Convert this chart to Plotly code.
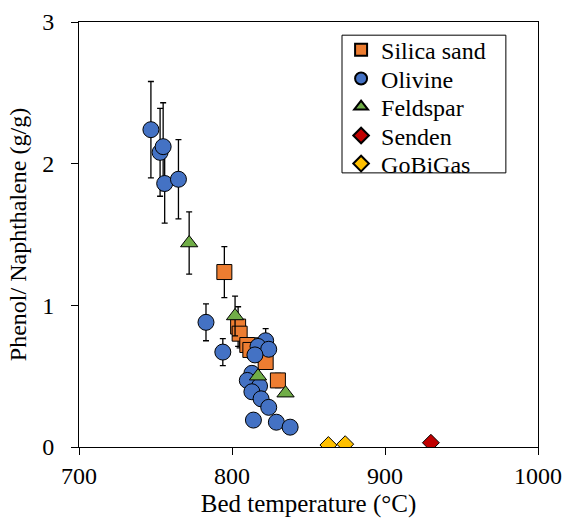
import plotly.graph_objects as go

# Silica sand
silica_T = [795, 804, 805, 810, 812, 822, 830]
silica_v = [1.235, 0.85, 0.80, 0.72, 0.685, 0.60, 0.47]
silica_e = [0.18, 0.14, 0.10, 0.05, 0.06, 0.05, 0.05]

# Olivine
olivine_T = [747, 753, 755, 756, 765, 783, 794, 822, 817, 824, 815, 813, 810, 818, 813, 819, 824, 814, 829, 838]
olivine_v = [2.24, 2.08, 2.12, 1.86, 1.89, 0.88, 0.67, 0.75, 0.71, 0.69, 0.65, 0.52, 0.47, 0.43, 0.39, 0.34, 0.28, 0.19, 0.175, 0.14]
olivine_e = [0.34, 0.31, 0.31, 0.28, 0.28, 0.13, 0.095, 0.085, 0.06, 0, 0, 0, 0, 0, 0, 0, 0, 0, 0, 0]

# Feldspar
feldspar_T = [772, 802, 817, 835]
feldspar_v = [1.44, 0.925, 0.50, 0.38]
feldspar_e = [0.22, 0.14, 0.0, 0.0]

# Senden
senden_T = [930]
senden_v = [0.03]

# GoBiGas
gobigas_T = [863, 874]
gobigas_v = [0.014, 0.02]

x_ticks = [700, 800, 900, 1000]
y_ticks = [0, 1, 2, 3]

FONT = "Liberation Serif, serif"
line = dict(color="black", width=1)
eb = lambda e: dict(type="data", array=e, visible=True, color="black", thickness=1.3, width=3)

fig = go.Figure()
fig.add_trace(go.Scatter(x=silica_T, y=silica_v, mode="markers", name="Silica sand",
                         error_y=eb(silica_e), legend="legend",
                         marker=dict(symbol="square", size=15, color="#ED7D31", line=line)))
fig.add_trace(go.Scatter(x=olivine_T, y=olivine_v, mode="markers", name="Olivine",
                         error_y=eb(olivine_e), legend="legend2",
                         marker=dict(symbol="circle", size=16, color="#4472C4", line=line)))
fig.add_trace(go.Scatter(x=feldspar_T, y=feldspar_v, mode="markers", name="Feldspar",
                         error_y=eb(feldspar_e), legend="legend3",
                         marker=dict(symbol="triangle-up", size=15, color="#70AD47", line=line)))
fig.add_trace(go.Scatter(x=senden_T, y=senden_v, mode="markers", name="Senden",
                         legend="legend4",
                         marker=dict(symbol="diamond", size=13, color="#C00000", line=line)))
fig.add_trace(go.Scatter(x=gobigas_T, y=gobigas_v, mode="markers", name="GoBiGas",
                         legend="legend5",
                         marker=dict(symbol="diamond", size=13, color="#FFC000", line=line)))

leg_x = 0.571
leg_ys = [0.934, 0.866, 0.800, 0.732, 0.666]
def leg(yv):
    return dict(x=leg_x, y=yv, xanchor="left", yanchor="middle",
                borderwidth=0, bgcolor="rgba(0,0,0,0)",
                font=dict(family=FONT, size=24, color="black"),
                itemsizing="constant", itemwidth=30)

fig.update_layout(
    width=566, height=521,
    margin=dict(l=79, r=28, t=22, b=74),
    paper_bgcolor="white", plot_bgcolor="white",
    font=dict(family=FONT, size=24, color="black"),
    showlegend=True,
    legend=leg(leg_ys[0]), legend2=leg(leg_ys[1]), legend3=leg(leg_ys[2]),
    legend4=leg(leg_ys[3]), legend5=leg(leg_ys[4]),
    shapes=[dict(type="rect", xref="paper", yref="paper",
                 x0=0.573, x1=0.930, y0=0.645, y1=0.969,
                 line=dict(color="black", width=1), fillcolor="rgba(0,0,0,0)", layer="above")],
)
fig.update_xaxes(range=[700, 1000], tickvals=x_ticks, ticks="outside", ticklen=7,
                 tickcolor="black", showline=True, linecolor="black", linewidth=1,
                 mirror=True, showgrid=False, zeroline=False, automargin=False,
                 title=dict(text="Bed temperature (°C)", font=dict(family=FONT, size=25), standoff=6),
                 tickfont=dict(family=FONT, size=24))
fig.update_yaxes(range=[0, 3], tickvals=y_ticks, ticks="outside", ticklen=7,
                 tickcolor="black", showline=True, linecolor="black", linewidth=1,
                 mirror=True, showgrid=False, zeroline=False, automargin=False,
                 ticklabelstandoff=12,
                 title=dict(text="Phenol/ Naphthalene (g/g)", font=dict(family=FONT, size=24), standoff=8),
                 tickfont=dict(family=FONT, size=24))

fig.write_html("out.html", config={"displayModeBar": False},
               post_script="document.body.style.margin='0';")
